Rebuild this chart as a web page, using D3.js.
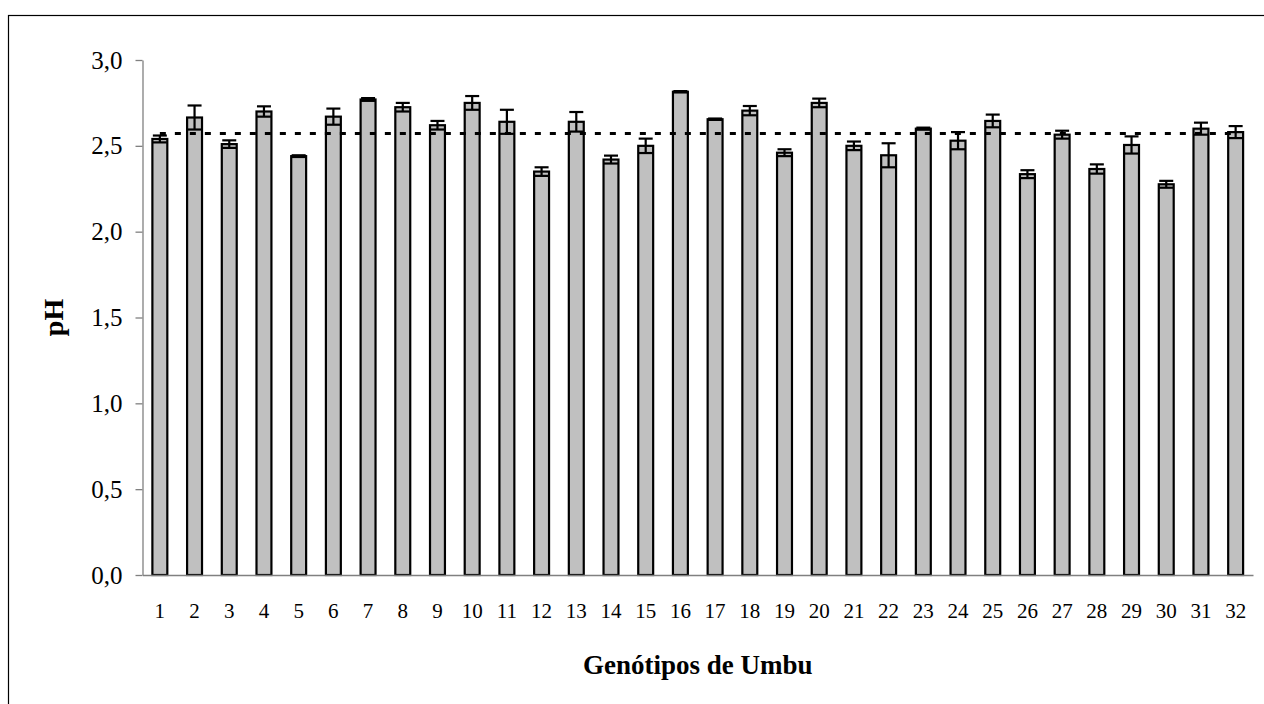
<!DOCTYPE html>
<html>
<head>
<meta charset="utf-8">
<script src="https://cdn.jsdelivr.net/npm/d3@7"></script>
<style>
  body { margin: 0; background: #fff; }
  svg { display: block; }
</style>
</head>
<body>
<div id="chart"></div>
<script>
// Data
const genotypes = d3.range(1, 33).map(String)
const phValues = [2.54, 2.665, 2.51, 2.70, 2.44, 2.67, 2.77, 2.725, 2.62, 2.75,
  2.64, 2.35, 2.64, 2.42, 2.50, 2.815, 2.655, 2.705, 2.46, 2.75,
  2.50, 2.445, 2.60, 2.53, 2.645, 2.335, 2.565, 2.365, 2.505, 2.276,
  2.60, 2.58]
const phErrors = [0.02, 0.07, 0.022, 0.03, 0.005, 0.047, 0.008, 0.025, 0.025, 0.04,
  0.07, 0.025, 0.057, 0.023, 0.042, 0.004, 0.004, 0.027, 0.02, 0.025,
  0.025, 0.07, 0.006, 0.05, 0.037, 0.023, 0.023, 0.027, 0.05, 0.02,
  0.035, 0.035]
const meanPh = 2.572
const yTicks = [0, 0.5, 1, 1.5, 2, 2.5, 3]

const dataset = genotypes.map((g, i) => ({ g, v: phValues[i], e: phErrors[i] }))

// Dimensions
const width = 1264, height = 704
const plot = { left: 142.5, right: 1253, top: 60, bottom: 575 }

const svg = d3.select('#chart')
  .append('svg')
  .attr('width', width)
  .attr('height', height)

// outer frame (runs off the picture on right/bottom)
svg.append('rect')
  .attr('x', 8.5).attr('y', 15.5)
  .attr('width', 1300).attr('height', 720)
  .attr('fill', 'none')
  .attr('stroke', '#000')
  .attr('stroke-width', 1.2)

// Scales
const xScale = d3.scaleBand()
  .domain(genotypes)
  .range([plot.left, plot.right])
  .paddingInner(0.57)
  .paddingOuter(0.285)

const yScale = d3.scaleLinear()
  .domain([0, 3])
  .range([plot.bottom, plot.top])

const fmt = d => d.toFixed(1).replace('.', ',')

// Y axis
const yAxis = d3.axisLeft(yScale)
  .tickValues(yTicks)
  .tickFormat(fmt)
  .tickSize(7)
  .tickSizeOuter(0)
  .tickPadding(13)

const yAxisGroup = svg.append('g')
  .attr('transform', `translate(${plot.left},0)`)
  .call(yAxis)
yAxisGroup.select('.domain').attr('stroke', '#808080').attr('stroke-width', 1.3)
yAxisGroup.selectAll('.tick line').attr('stroke', '#808080').attr('stroke-width', 1.3)
yAxisGroup.selectAll('text')
  .attr('fill', '#000')
  .style('font-family', '"Liberation Serif", "Times New Roman", serif')
  .style('font-size', '25px')

// Bars
svg.append('g')
  .selectAll('rect')
  .data(dataset)
  .join('rect')
  .attr('x', d => xScale(d.g))
  .attr('y', d => yScale(d.v))
  .attr('width', xScale.bandwidth())
  .attr('height', d => yScale(0) - yScale(d.v))
  .attr('fill', '#c0c0c0')
  .attr('stroke', '#000')
  .attr('stroke-width', 2.2)

// Error bars
const capW = 14
const err = svg.append('g')
  .attr('stroke', '#000')
  .attr('stroke-width', 2.2)
  .selectAll('g')
  .data(dataset)
  .join('g')
  .attr('transform', d => `translate(${xScale(d.g) + xScale.bandwidth() / 2},0)`)
err.append('line')
  .attr('y1', d => yScale(d.v - d.e))
  .attr('y2', d => yScale(d.v + d.e))
err.append('line')
  .attr('x1', -capW / 2).attr('x2', capW / 2)
  .attr('y1', d => yScale(d.v + d.e)).attr('y2', d => yScale(d.v + d.e))
err.append('line')
  .attr('x1', -capW / 2).attr('x2', capW / 2)
  .attr('y1', d => yScale(d.v - d.e)).attr('y2', d => yScale(d.v - d.e))

// X axis (line only, no ticks)
const xAxis = d3.axisBottom(xScale)
  .tickSize(0)
  .tickSizeOuter(0)
  .tickPadding(28)
const xAxisGroup = svg.append('g')
  .attr('transform', `translate(0,${plot.bottom})`)
  .call(xAxis)
xAxisGroup.select('.domain').attr('stroke', '#808080').attr('stroke-width', 1.3)
xAxisGroup.selectAll('text')
  .attr('fill', '#000')
  .style('font-family', '"Liberation Serif", "Times New Roman", serif')
  .style('font-size', '21px')

// Mean line
const first = genotypes[0], last = genotypes[genotypes.length - 1]
svg.append('line')
  .attr('x1', xScale(first) + xScale.bandwidth() / 2)
  .attr('x2', xScale(last) + xScale.bandwidth() / 2)
  .attr('y1', yScale(meanPh))
  .attr('y2', yScale(meanPh))
  .attr('stroke', '#000')
  .attr('stroke-width', 3)
  .attr('stroke-dasharray', '6,9')

// Axis titles
svg.append('text')
  .attr('x', (plot.left + plot.right) / 2)
  .attr('y', 674)
  .attr('text-anchor', 'middle')
  .style('font-family', '"Liberation Serif", "Times New Roman", serif')
  .style('font-weight', 'bold')
  .style('font-size', '27px')
  .text('Genótipos de Umbu')

svg.append('text')
  .attr('transform', `translate(63,${(plot.top + plot.bottom) / 2}) rotate(-90)`)
  .attr('text-anchor', 'middle')
  .style('font-family', '"Liberation Serif", "Times New Roman", serif')
  .style('font-weight', 'bold')
  .style('font-size', '28px')
  .text('pH')
</script>
</body>
</html>
